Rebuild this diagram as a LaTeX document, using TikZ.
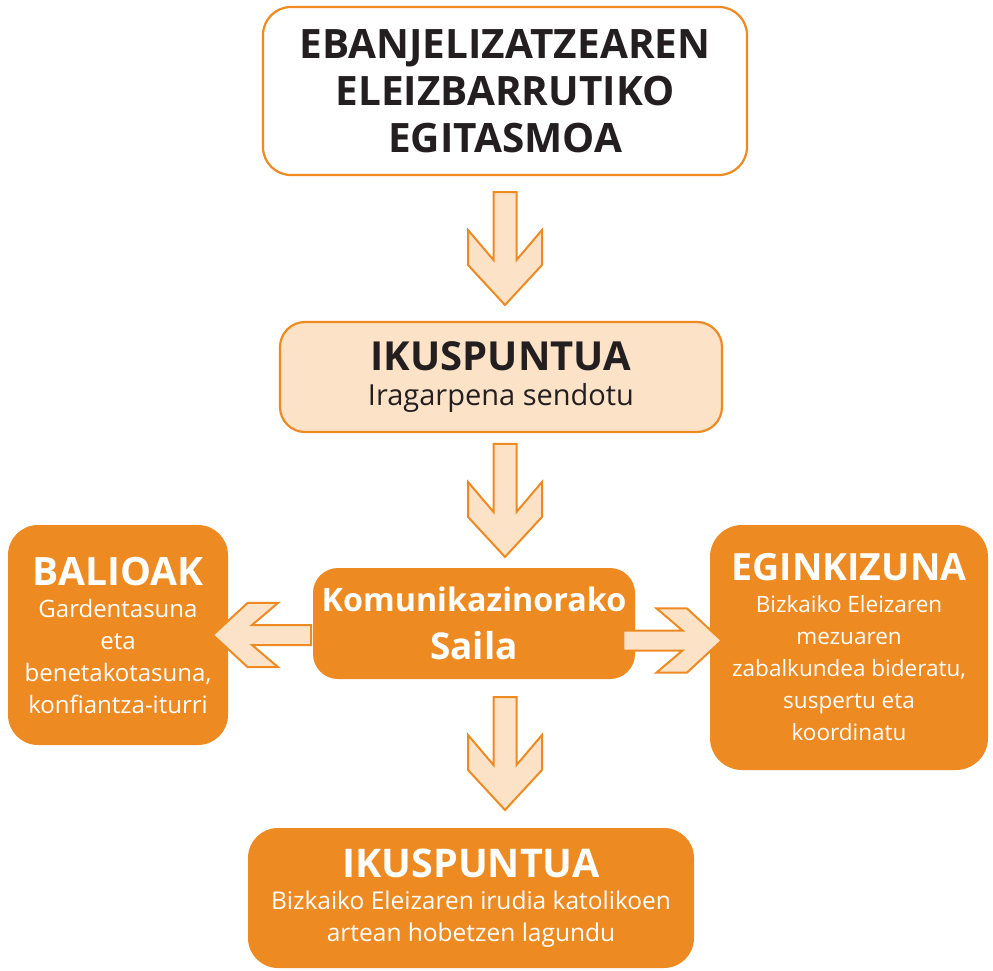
\documentclass[tikz,border=0pt]{standalone}
\usepackage{fontspec}
\setmainfont{Open Sans}
\usetikzlibrary{calc}
\definecolor{orx}{RGB}{238,138,34}
\definecolor{pex}{RGB}{252,226,199}
\definecolor{bkx}{RGB}{35,31,32}
\tikzset{
    boxw/.style={draw=orx,line width=2.2pt,fill=white,text=bkx,rounded corners=28pt,align=center,inner sep=0pt},
    boxp/.style={draw=orx,line width=2.2pt,fill=pex,text=bkx,rounded corners=25pt,align=center,inner sep=0pt},
    boxo/.style={fill=orx,text=white,rounded corners=30pt,align=center,inner sep=0pt},
    arrbody/.style={draw=orx,fill=pex,line width=2pt,line join=miter},
    fatarr/.pic={
        \draw [arrbody] (-11.5,-56.5) -- (-11.5,11.5) -- (-37,-18.5) -- (-37,16.5)
            -- (0,56.5) -- (37,16.5) -- (37,-18.5) -- (11.5,11.5) -- (11.5,-56.5) -- cycle;
    }
}
\begin{document}
\begin{tikzpicture}[x=1pt,y=-1pt]
    \useasboundingbox (0,0) rectangle (993,971);
    % boxes
    \node [boxw,minimum width=484pt,minimum height=168pt,
        font=\fontsize{40.5}{47}\selectfont\bfseries] (top) at (505,91)
        {EBANJELIZATZEAREN\\ELEIZBARRUTIKO\\EGITASMOA};
    \node [boxp,minimum width=442pt,minimum height=110pt,
        font=\fontsize{29}{35}\selectfont] (ikus) at (501,377)
        {{\fontsize{40}{40}\selectfont\bfseries IKUSPUNTUA}\\Iragarpena sendotu};
    \node [boxo,rounded corners=25pt,minimum width=322pt,minimum height=111pt,
        font=\fontsize{32.3}{48}\selectfont\bfseries] (sail) at (474,623.5)
        {Komunikazinorako\\{\fontsize{37}{37}\selectfont Saila}};
    \node [boxo,minimum width=220pt,minimum height=220pt,
        font=\fontsize{24}{32}\selectfont] (bal) at (118,635)
        {{\fontsize{39}{39}\selectfont\bfseries BALIOAK}\\Gardentasuna\\eta\\benetakotasuna,\\konfiantza-iturri};
    \node [boxo,rounded corners=32pt,minimum width=278pt,minimum height=245pt,
        font=\fontsize{22.5}{32}\selectfont] (eg) at (849,647.5)
        {{\fontsize{37.5}{37.5}\selectfont\bfseries EGINKIZUNA}\\Bizkaiko Eleizaren\\mezuaren\\zabalkundea bideratu,\\suspertu eta\\koordinatu};
    \node [boxo,minimum width=446pt,minimum height=140pt,
        font=\fontsize{24.5}{32}\selectfont] (bot) at (471,898)
        {{\fontsize{39.5}{39.5}\selectfont\bfseries IKUSPUNTUA}\\Bizkaiko Eleizaren irudia katolikoen\\artean hobetzen lagundu};
    % arrows
    \coordinate (m1) at ($(top.south)!0.5!(ikus.north)$);
    \coordinate (m2) at ($(ikus.south)!0.5!(sail.north)$);
    \coordinate (m3) at ($(sail.south)!0.5!(bot.north)$);
    \coordinate (m4) at ($(sail.east)!0.5!(eg.west)+(0,5)$);
    \coordinate (m5) at ($(sail.west)!0.6!(bal.east)$);
    \foreach \m in {m1,m2,m3} {
        \pic at (\m -| top) {fatarr};
    }
    \pic [rotate=90,scale=0.87] at (m4) {fatarr};
    \pic [rotate=-90,scale=0.87] at (m5 |- bal) {fatarr};
\end{tikzpicture}
\end{document}
